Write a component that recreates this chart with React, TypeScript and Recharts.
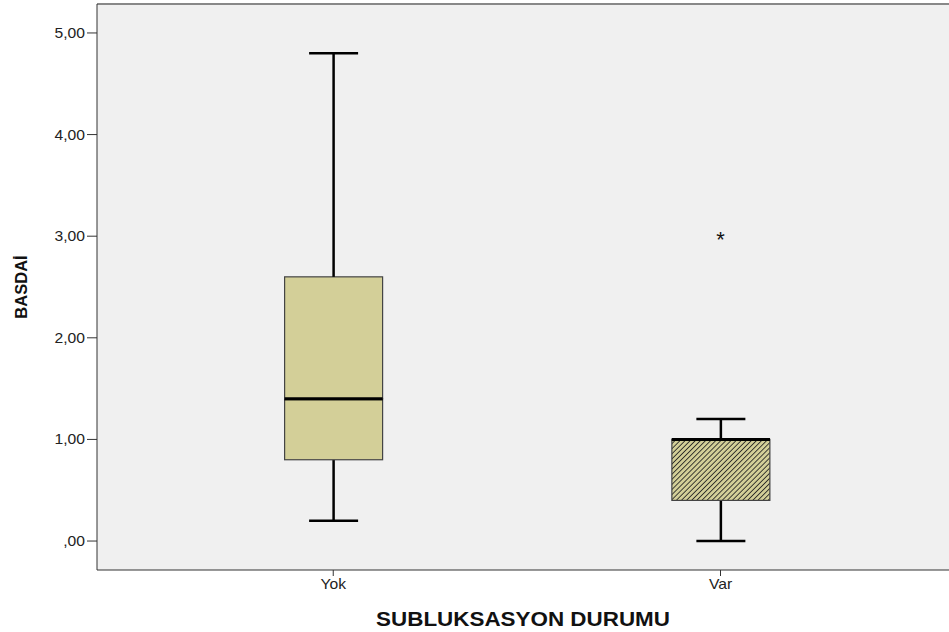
import React from "react";
import {
  ComposedChart,
  Bar,
  Scatter,
  XAxis,
  YAxis,
  CartesianGrid,
  ReferenceLine,
} from "recharts";

// Boxplot summary per group
const groups = ["Yok", "Var"];
const groupPos = [1, 2];
const mins = [0.2, 0.0];
const q1s = [0.8, 0.4];
const medians = [1.4, 1.0];
const q3s = [2.6, 1.0];
const maxes = [4.8, 1.2];

// extreme values marked with a star
const outlierGroup = [2];
const outlierValues = [3.0];

const yTicks = [0, 1, 2, 3, 4, 5];

const BOX_FILL = "#D3CF98";
const FONT = "Arial, 'Liberation Sans', sans-serif";
const STRETCH = 1.12;

const data = groups.map((g, i) => ({
  name: g,
  x: groupPos[i],
  hatched: i === 1,
  base: mins[i],
  whiskerLow: q1s[i] - mins[i],
  boxLow: medians[i] - q1s[i],
  boxHigh: q3s[i] - medians[i],
  whiskerHigh: maxes[i] - q3s[i],
}));

const outliers = outlierGroup.map((g, i) => ({ x: g, y: outlierValues[i] }));

const CAP = 49;

function WhiskerLow(props: any) {
  const { x, y, width, height } = props;
  const cx = x + width / 2;
  return (
    <g>
      <line x1={cx} x2={cx} y1={y} y2={y + height} stroke="#000" strokeWidth={2.5} />
      <line x1={cx - CAP / 2} x2={cx + CAP / 2} y1={y + height} y2={y + height} stroke="#000" strokeWidth={2.5} />
    </g>
  );
}

function WhiskerHigh(props: any) {
  const { x, y, width, height } = props;
  const cx = x + width / 2;
  return (
    <g>
      <line x1={cx} x2={cx} y1={y} y2={y + height} stroke="#000" strokeWidth={2.5} />
      <line x1={cx - CAP / 2} x2={cx + CAP / 2} y1={y} y2={y} stroke="#000" strokeWidth={2.5} />
    </g>
  );
}

// lower half: median sits on its top edge; upper half: median on its bottom edge
function BoxPart(props: any, lower: boolean) {
  const { x, y, width, height, payload } = props;
  const fill = payload.hatched ? "url(#hatch)" : BOX_FILL;
  const my = lower ? y : y + height;
  return (
    <g>
      <rect x={x} y={y} width={width} height={height} fill={fill} stroke="#444" strokeWidth={1.2} />
      <line x1={x} x2={x + width} y1={my} y2={my} stroke="#000" strokeWidth={3} />
    </g>
  );
}

function Star(props: any) {
  const { cx, cy } = props;
  return (
    <text x={cx} y={cy + 11} textAnchor="middle" fontSize={22} fontFamily={FONT} fill="#111">
      *
    </text>
  );
}

const fmt = (v: number) => (v === 0 ? ",00" : v.toFixed(2).replace(".", ","));

function YTick(props: any) {
  const { x, y, payload } = props;
  return (
    <text
      transform={`translate(${x},${y}) scale(${STRETCH},1)`}
      textAnchor="end"
      dy="0.36em"
      fontSize={14}
      fontFamily={FONT}
      fill="#222"
    >
      {fmt(payload.value)}
    </text>
  );
}

function XTick(props: any) {
  const { x, y, payload } = props;
  return (
    <text
      transform={`translate(${x},${y}) scale(${STRETCH},1)`}
      textAnchor="middle"
      dy="0.8em"
      fontSize={14}
      fontFamily={FONT}
      fill="#222"
    >
      {groups[groupPos.indexOf(payload.value)] ?? ""}
    </text>
  );
}

function XTitle(props: any) {
  const { viewBox } = props;
  const cx = viewBox.x + viewBox.width / 2;
  return (
    <text
      transform={`translate(${cx},${viewBox.y + 56}) scale(1.15,1)`}
      textAnchor="middle"
      fontSize={19.5}
      fontWeight={700}
      fontFamily={FONT}
      fill="#111"
    >
      SUBLUKSASYON DURUMU
    </text>
  );
}

function YTitle(props: any) {
  const { viewBox } = props;
  const cy = viewBox.y + viewBox.height / 2;
  return (
    <text
      transform={`translate(27,${cy}) rotate(-90)`}
      textAnchor="middle"
      fontSize={16.5}
      fontWeight={700}
      fontFamily={FONT}
      fill="#111"
    >
      BASDAİ
    </text>
  );
}

export default function App() {
  return (
    <div style={{ position: "absolute", left: 0, top: 0, width: 949, height: 632, background: "#fff" }}>
      <ComposedChart
        width={949}
        height={632}
        data={data}
        margin={{ top: 4, right: 0, bottom: 0, left: 0 }}
      >
        <defs>
          <pattern id="hatch" patternUnits="userSpaceOnUse" width={3.6} height={3.6} patternTransform="rotate(45)">
            <rect width={3.6} height={3.6} fill={BOX_FILL} />
            <line x1={0} y1={0} x2={0} y2={3.6} stroke="#222" strokeWidth={1.7} />
          </pattern>
        </defs>
        <CartesianGrid fill="#F0F0F0" fillOpacity={1} stroke="none" horizontal={false} vertical={false} />
        <ReferenceLine y={5.285} stroke="#888" strokeWidth={2} />
        <XAxis
          dataKey="x"
          type="number"
          domain={[0.39, 2.59]}
          ticks={groupPos}
          allowDataOverflow
          height={62}
          tickSize={6}
          stroke="#333"
          tick={<XTick />}
          label={<XTitle />}
        />
        <YAxis
          type="number"
          domain={[-0.285, 5.285]}
          ticks={yTicks}
          allowDataOverflow
          width={97}
          tickSize={10}
          stroke="#333"
          tick={<YTick />}
          label={<YTitle />}
        />
        <Bar dataKey="base" stackId="b" fill="none" barSize={98} isAnimationActive={false} />
        <Bar dataKey="whiskerLow" stackId="b" barSize={98} shape={WhiskerLow} isAnimationActive={false} />
        <Bar dataKey="boxLow" stackId="b" barSize={98} shape={(p: any) => BoxPart(p, true)} isAnimationActive={false} />
        <Bar dataKey="boxHigh" stackId="b" barSize={98} shape={(p: any) => BoxPart(p, false)} isAnimationActive={false} />
        <Bar dataKey="whiskerHigh" stackId="b" barSize={98} shape={WhiskerHigh} isAnimationActive={false} />
        <Scatter data={outliers} dataKey="y" shape={Star} isAnimationActive={false} />
      </ComposedChart>
    </div>
  );
}
